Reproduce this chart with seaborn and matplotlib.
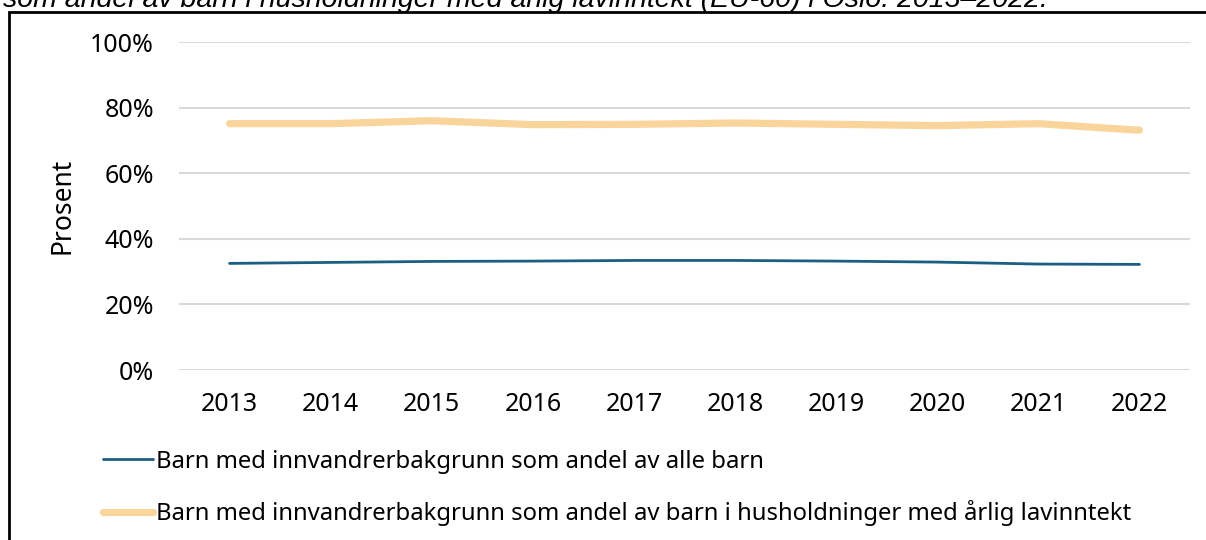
import numpy as np
import pandas as pd
import seaborn as sns
import matplotlib
matplotlib.use("Agg")
import matplotlib.pyplot as plt
from matplotlib.patches import Rectangle
from matplotlib.ticker import FuncFormatter

# data (percent)
years = ["2013", "2014", "2015", "2016", "2017", "2018", "2019", "2020", "2021", "2022"]
alle_barn = [32.5, 32.8, 33.1, 33.2, 33.4, 33.4, 33.2, 32.9, 32.3, 32.2]
lavinntekt = [75.1, 75.1, 76.0, 74.8, 74.9, 75.3, 74.9, 74.5, 75.1, 73.1]

label_alle = "Barn med innvandrerbakgrunn som andel av alle barn"
label_lav = "Barn med innvandrerbakgrunn som andel av barn i husholdninger med årlig lavinntekt"
title = "som andel av barn i husholdninger med årlig lavinntekt (EU-60) i Oslo. 2013–2022."

df = pd.DataFrame({"year": years, "alle": alle_barn, "lav": lavinntekt})

sns.set_theme(style="white")
plt.rcParams['font.family'] = ['Noto Sans', 'DejaVu Sans']

W, H = 1206, 540
fig = plt.figure(figsize=(W / 100, H / 100), dpi=100)
ax = fig.add_axes([179 / W, 1 - 370 / H, 1011 / W, 328 / H])

sns.lineplot(data=df, x="year", y="alle", ax=ax, color="#1b5e83", linewidth=2.0,
             label=label_alle, legend=False)
sns.lineplot(data=df, x="year", y="lav", ax=ax, color="#f9d49b", linewidth=5.2,
             solid_capstyle="round", label=label_lav, legend=False)

ax.set_xlim(-0.5, len(years) - 0.5)
ax.set_ylim(0, 100)
ax.set_yticks(np.arange(0, 101, 20))
ax.yaxis.set_major_formatter(FuncFormatter(lambda v, p: f"{v:.0f}%"))
ax.grid(axis="y", color="#d9d9d9", linewidth=1.5)
ax.grid(axis="x", visible=False)
ax.set_axisbelow(True)
for s in ax.spines.values():
    s.set_visible(False)
ax.tick_params(axis="both", length=0, labelsize=18, colors="black")
ax.tick_params(axis="y", pad=18)
ax.tick_params(axis="x", pad=16)
ax.set_xlabel("")
ax.set_ylabel("Prosent", fontsize=19, color="black", va="center")
ax.yaxis.set_label_coords((62 - 179) / 1011, 0.5)

handles = ax.get_lines()[:2]
fig.legend(handles, [label_alle, label_lav], loc="upper left",
           bbox_to_anchor=(93 / W, 1 - 440 / H), frameon=False, fontsize=17.2,
           labelcolor="black", handlelength=2.1, handletextpad=0.12,
           labelspacing=1.12, borderaxespad=0)

# frame round the chart, and the title line clipped at the top
fig.patches.append(Rectangle((9 / W, -0.1), 1.2, 1.1 - 12 / H, transform=fig.transFigure,
                             fill=False, edgecolor="black", linewidth=2))
fig.text(3 / W, 1 - 7 / H, title, fontsize=20.5, style="italic", color="black",
         family=["Liberation Sans", "DejaVu Sans"], va="baseline", ha="left")

fig.savefig("out.png", dpi=100)
